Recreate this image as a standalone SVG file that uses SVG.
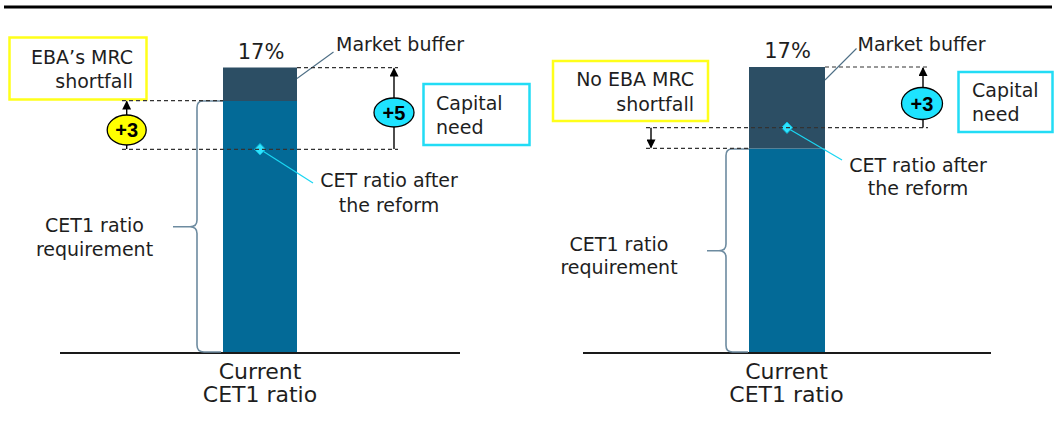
<svg xmlns="http://www.w3.org/2000/svg" width="1055" height="437" viewBox="0 0 1055 437">
<style>
text{font-family:"DejaVu Sans","Liberation Sans",sans-serif;fill:#1e1e1e}
.lbl{font-size:19px}
.big{font-size:22px}
.pct{font-size:21px}
.num{font-family:"Liberation Sans",Arial,sans-serif;font-weight:bold;font-size:20px;fill:#000}
.dash{stroke:#333;stroke-width:1.2;stroke-dasharray:4 3;fill:none}
.brace{stroke:#6d8ba0;stroke-width:1.6;fill:none}
.lead{stroke:#4d6e85;stroke-width:1.1;fill:none}
.cyl{stroke:#1ad6f2;stroke-width:1.2;fill:none}
.base{stroke:#1a1a1a;stroke-width:2}
.arr{stroke:#000;stroke-width:1.4;fill:none}
.ybox{fill:#fff;stroke:#ffff1a;stroke-width:2.5}
.cbox{fill:#fff;stroke:#22dcf5;stroke-width:2.5}
.yell{fill:#ffff00;stroke:#000;stroke-width:1.3}
.cell{fill:#1ee3ff;stroke:#000;stroke-width:1.3}
.dia{fill:#2de4ff;stroke:#10b8d8;stroke-width:1}
.dark{fill:#2c4e64}
.blue{fill:#036a97}
</style>
<defs>
<marker id="ah" viewBox="0 0 10 10" refX="9" refY="5" markerWidth="10" markerHeight="9" markerUnits="userSpaceOnUse" orient="auto">
<path d="M0,0 L10,5 L0,10 Z" fill="#000"/>
</marker>
</defs>
<line x1="4" y1="7" x2="1052" y2="7" stroke="#000" stroke-width="3"/>

<!-- LEFT PANEL -->
<g id="left-bar">
<rect class="blue" x="223" y="101" width="74" height="252"/>
<rect class="dark" x="223" y="67.5" width="74" height="33.5"/>
<text class="pct" x="261" y="59" text-anchor="middle">17%</text>
</g>
<g id="left-baseline"><line class="base" x1="60" y1="353" x2="460" y2="353"/></g>
<g id="left-current"><text class="big" text-anchor="middle"><tspan x="260" y="379">Current</tspan><tspan x="260" y="401.5">CET1 ratio</tspan></text></g>
<g id="left-market-buffer"><text class="lbl" x="336" y="51">Market buffer</text></g>
<g id="left-eba"><rect class="ybox" x="9.5" y="37.5" width="137" height="62"/>
<text class="lbl" text-anchor="end"><tspan x="133" y="64">EBA’s MRC</tspan><tspan x="133" y="87.5">shortfall</tspan></text></g>
<g id="left-capital"><rect class="cbox" x="423.5" y="84" width="106" height="61"/>
<text class="lbl"><tspan x="436" y="109.5">Capital</tspan><tspan x="436" y="133.5">need</tspan></text></g>
<g id="left-cet-after"><text class="lbl" text-anchor="middle"><tspan x="389" y="187">CET ratio after</tspan><tspan x="389" y="211.5">the reform</tspan></text></g>
<g id="left-req"><text class="lbl" text-anchor="middle"><tspan x="94.5" y="232">CET1 ratio</tspan><tspan x="94.5" y="255.5">requirement</tspan></text></g>

<!-- RIGHT PANEL -->
<g id="right-bar">
<rect class="blue" x="749" y="148.5" width="76" height="204.5"/>
<rect class="dark" x="749" y="67" width="76" height="81.5"/>
<text class="pct" x="787.5" y="58" text-anchor="middle">17%</text>
</g>
<g id="right-baseline"><line class="base" x1="583" y1="353" x2="991" y2="353"/></g>
<g id="right-current"><text class="big" text-anchor="middle"><tspan x="786.5" y="379">Current</tspan><tspan x="786.5" y="401.5">CET1 ratio</tspan></text></g>
<g id="right-market-buffer"><text class="lbl" x="857.5" y="51">Market buffer</text></g>
<g id="right-eba"><rect class="ybox" x="553" y="61" width="155" height="60"/>
<text class="lbl" text-anchor="end"><tspan x="694" y="85.5">No EBA MRC</tspan><tspan x="694" y="111">shortfall</tspan></text></g>
<g id="right-capital"><rect class="cbox" x="958.5" y="72" width="94" height="60"/>
<text class="lbl"><tspan x="972" y="97">Capital</tspan><tspan x="972" y="121">need</tspan></text></g>
<g id="right-cet-after"><text class="lbl" text-anchor="middle"><tspan x="918" y="171.5">CET ratio after</tspan><tspan x="918" y="195">the reform</tspan></text></g>
<g id="right-req"><text class="lbl" text-anchor="middle"><tspan x="619" y="251">CET1 ratio</tspan><tspan x="619" y="274">requirement</tspan></text></g>

<g id="connectors">
<!-- left -->
<path class="brace" d="M223,101 H203 Q197,101 197,107.5 V220 Q197,226.7 190,226.7 H173 M190,226.7 Q197,226.7 197,233.5 V345 Q197,352 204,352 H221"/>
<line class="lead" x1="297" y1="78.5" x2="333.5" y2="52"/>
<line class="cyl" x1="260" y1="149.3" x2="313" y2="183"/>
<path class="dia" d="M260,143.5 L265.5,149.3 L260,155 L254.5,149.3 Z"/>
<line class="dash" x1="297" y1="67.7" x2="398" y2="67.7"/>
<line class="dash" x1="122" y1="100.7" x2="223" y2="100.7"/>
<line class="dash" x1="122" y1="149.3" x2="398" y2="149.3"/>
<line class="arr" x1="394" y1="149" x2="394" y2="68.5" marker-end="url(#ah)"/>
<ellipse class="cell" cx="394" cy="112.5" rx="20" ry="14.5"/>
<text class="num" x="394" y="119.5" text-anchor="middle">+5</text>
<line class="arr" x1="126.7" y1="149" x2="126.7" y2="101.5" marker-end="url(#ah)"/>
<ellipse class="yell" cx="126.7" cy="130" rx="19.5" ry="15"/>
<text class="num" x="126.7" y="137" text-anchor="middle">+3</text>
<!-- right -->
<path class="brace" d="M749,149 H732 Q726,149 726,155.5 V244 Q726,250.7 719,250.7 H707 M719,250.7 Q726,250.7 726,257.5 V345.5 Q726,352 732.5,352 H748"/>
<line class="lead" x1="825" y1="80" x2="856.5" y2="48.5"/>
<line class="cyl" x1="787" y1="127.7" x2="842" y2="160"/>
<path class="dia" d="M787,122 L792.5,127.7 L787,133.4 L781.5,127.7 Z"/>
<line class="dash" x1="825" y1="67" x2="928" y2="67"/>
<line class="dash" x1="646" y1="127.7" x2="928" y2="127.7"/>
<line class="dash" x1="646" y1="148.3" x2="749" y2="148.3"/>
<line class="arr" x1="923" y1="127.5" x2="923" y2="68" marker-end="url(#ah)"/>
<ellipse class="cell" cx="922" cy="103.5" rx="20.5" ry="16"/>
<text class="num" x="922" y="110.5" text-anchor="middle">+3</text>
<line class="arr" x1="651" y1="127.7" x2="651" y2="147.5" marker-end="url(#ah)"/>
</g>
</svg>
